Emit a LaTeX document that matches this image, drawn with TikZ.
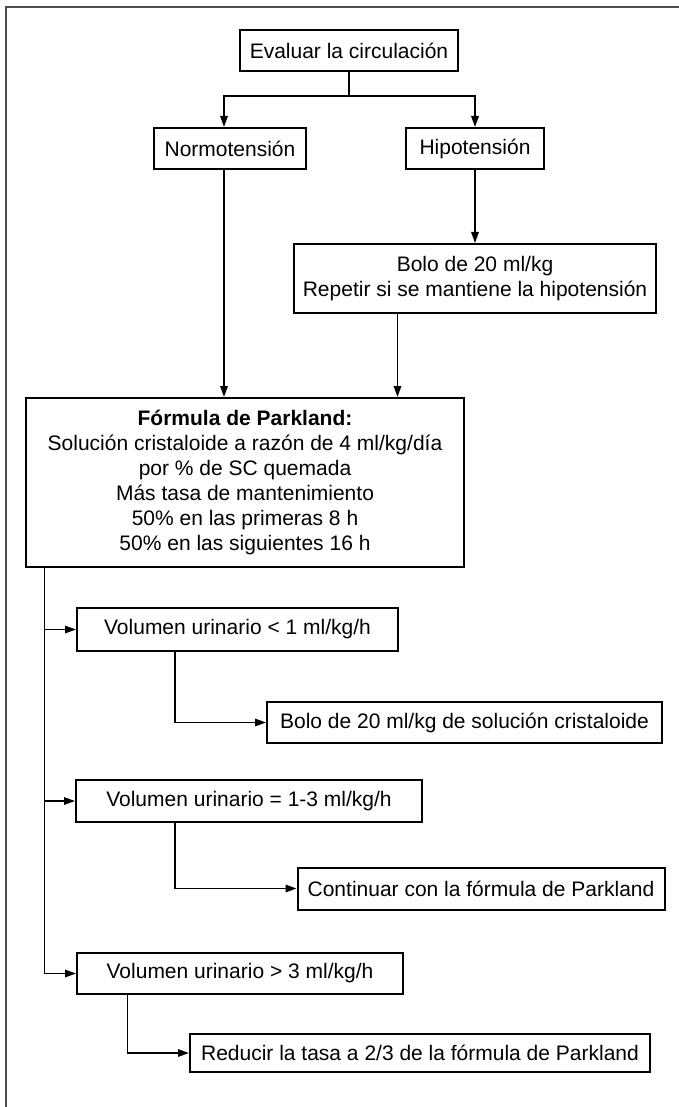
\documentclass[tikz,border=0pt]{standalone}
\usepackage{fontspec}
\setmainfont{Liberation Sans}
\usetikzlibrary{arrows.meta}

\begin{document}
\begin{tikzpicture}[x=1pt,y=-1pt,
	box/.style={draw,line width=2pt,align=center,inner sep=0pt,font=\fontsize{21}{25}\selectfont},
	arr/.style={line width=1.6pt,-{Triangle[length=11pt,width=7.5pt]}},
	ln/.style={line width=1.6pt}]
	\useasboundingbox (0,0) rectangle (679,1107);
	\draw[line width=1.4pt,black!70] (679,7) -- (6,7) -- (6,1107);
	
	\node[box,minimum width=218,minimum height=41] (eval) at (349,50.5) {Evaluar la circulación};
	\node[box,minimum width=152,minimum height=41] (normo) at (230,148.5) {Normotensión};
	\node[box,minimum width=138,minimum height=41] (hipo) at (475,148.5) {Hipotensión};
	\node[box,minimum width=362,minimum height=69] (bolo) at (475,278.5) {Bolo de 20 ml/kg\\Repetir si se mantiene la hipotensión};
	\node[box,minimum width=438,minimum height=169] (park) at (245,482.5) {\textbf{Fórmula de Parkland:}\\Solución cristaloide a razón de 4 ml/kg/día\\por \% de SC quemada\\Más tasa de mantenimiento\\50\% en las primeras 8 h\\50\% en las siguientes 16 h};
	\node[box,minimum width=321,minimum height=43] (vol1) at (237.5,629.5) {Volumen urinario < 1 ml/kg/h};
	\node[box,minimum width=395,minimum height=41] (bolo2) at (464.5,722.5) {Bolo de 20 ml/kg de solución cristaloide};
	\node[box,minimum width=346,minimum height=42] (vol2) at (249,801) {Volumen urinario = 1-3 ml/kg/h};
	\node[box,minimum width=367,minimum height=42] (cont) at (481,888.5) {Continuar con la fórmula de Parkland};
	\node[box,minimum width=326,minimum height=41] (vol3) at (240,973.5) {Volumen urinario > 3 ml/kg/h};
	\node[box,minimum width=460,minimum height=38] (red) at (420,1053) {Reducir la tasa a 2/3 de la fórmula de Parkland};
	
	\coordinate (split) at (eval.south |- 0,96);
	\draw[ln] (eval.south) -- (split);
	\draw[arr] (split) -| ([xshift=-6]normo.north);
	\draw[arr] (split) -| (hipo.north);
	\draw[arr] ([xshift=-6]normo.south) -- ([xshift=-6]normo.south |- park.north);
	\draw[arr] (hipo) -- (bolo);
	\draw[arr] ([xshift=-77.5]bolo.south) -- ([xshift=-77.5]bolo.south |- park.north);
	
	\coordinate (trunk) at ([xshift=19.5]park.south west);
	\draw[arr] (trunk) |- (vol3.west);
	\draw[arr] (trunk |- vol1.west) -- (vol1.west);
	\draw[arr] (trunk |- vol2.west) -- (vol2.west);
	
	\draw[arr] ([xshift=99]vol1.south west) |- (bolo2.west);
	\draw[arr] ([xshift=100]vol2.south west) |- (cont.west);
	\draw[arr] ([xshift=51.5]vol3.south west) |- (red.west);
	
\end{tikzpicture}
\end{document}
